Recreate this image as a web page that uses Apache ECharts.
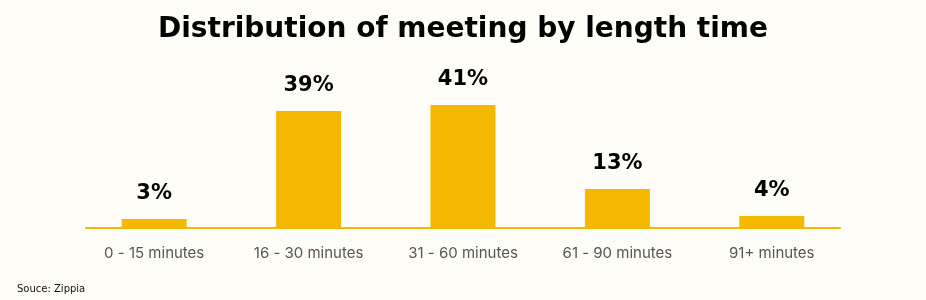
<!DOCTYPE html>
<html>
<head>
<meta charset="utf-8">
<script src="https://cdn.jsdelivr.net/npm/echarts@6/dist/echarts.min.js"></script>
<style>
html,body{margin:0;padding:0;background:#FEFDF8;}
#chart{width:926px;height:300px;}
</style>
</head>
<body>
<div id="chart"></div>
<script>
const categories = ["0 - 15 minutes", "16 - 30 minutes", "31 - 60 minutes", "61 - 90 minutes", "91+ minutes"];
const shares = [3, 39, 41, 13, 4];

const chart = echarts.init(document.getElementById('chart'));
chart.setOption({
  backgroundColor: '#FEFDF8',
  animation: false,
  title: [{
    text: 'Distribution of meeting by length time',
    left: 'center',
    top: 11,
    textStyle: { fontFamily: 'DejaVu Sans', fontWeight: 'bold', fontSize: 28, color: '#000' }
  }, {
    text: 'Souce: Zippia',
    left: 12,
    top: 279,
    textStyle: { fontFamily: 'DejaVu Sans', fontWeight: 'normal', fontSize: 10, color: '#111' }
  }],
  grid: [
    { left: 77, right: 77, top: 78, bottom: 72 },
    { left: 86, right: 86, top: 78, bottom: 72 }
  ],
  xAxis: [{
    type: 'category',
    gridIndex: 0,
    data: categories,
    axisLine: { show: false },
    axisTick: { show: false },
    axisLabel: { fontFamily: 'Inter', fontSize: 15, color: '#555', margin: 18 }
  }, {
    type: 'value',
    gridIndex: 1,
    min: 0, max: 1,
    axisLine: { show: true, lineStyle: { color: '#F5B800', width: 2 } },
    axisTick: { show: false },
    axisLabel: { show: false },
    splitLine: { show: false }
  }],
  yAxis: [{
    type: 'value',
    gridIndex: 0,
    min: 0, max: 50,
    show: false
  }, {
    type: 'value',
    gridIndex: 1,
    min: 0, max: 1,
    show: false
  }],
  series: [{
    type: 'bar',
    xAxisIndex: 0,
    yAxisIndex: 0,
    data: shares,
    barWidth: 65,
    itemStyle: { color: '#F5B800' },
    label: {
      show: true,
      position: 'top',
      distance: 15,
      formatter: '{c}%',
      fontFamily: 'DejaVu Sans',
      fontWeight: 'bold',
      fontSize: 21,
      color: '#000'
    }
  }]
});
</script>
</body>
</html>
